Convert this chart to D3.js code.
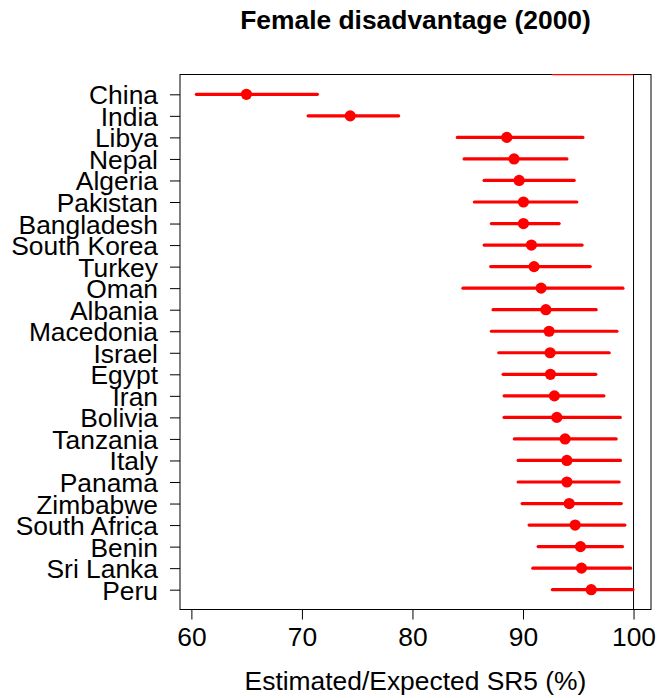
<!DOCTYPE html>
<html>
<head>
<meta charset="utf-8">
<script src="https://cdn.jsdelivr.net/npm/d3@7"></script>
<style>
  html, body { margin: 0; padding: 0; background: #fff; }
  svg { display: block; font-family: "Liberation Sans", Arial, Helvetica, sans-serif; }
</style>
</head>
<body>
<svg id="chart" width="658" height="698"></svg>
<script>
const countries = ["China","India","Libya","Nepal","Algeria","Pakistan","Bangladesh","South Korea","Turkey","Oman","Albania","Macedonia","Israel","Egypt","Iran","Bolivia","Tanzania","Italy","Panama","Zimbabwe","South Africa","Benin","Sri Lanka","Peru"];
const estimate = [64.98,74.37,88.53,89.19,89.65,90.04,90.04,90.76,91.0,91.64,92.07,92.36,92.45,92.48,92.84,93.06,93.81,93.97,93.97,94.18,94.72,95.2,95.29,96.17];
const lower    = [60.45,70.56,84.06,84.67,86.48,85.6,87.14,86.48,87.08,84.57,87.29,87.14,87.81,88.2,88.29,88.29,89.22,89.56,89.56,89.92,90.55,91.37,90.89,92.66];
const upper    = [71.4,78.75,95.42,93.97,94.63,94.87,93.27,95.35,96.08,99.04,96.62,98.5,97.8,96.59,97.32,98.8,98.43,98.82,98.7,98.89,99.22,99.0,99.73,99.95];
// an extra interval that sits just above the plot region (clipped, only its edge shows)
const ghostLower = [92.62];
const ghostUpper = [99.97];
const xTicks = [60,70,80,90,100];
const refValue = 100;
const titleText = "Female disadvantage (2000)";
const xLabel = "Estimated/Expected SR5 (%)";

const svg = d3.select("#chart");
const box = {left: 180, right: 651, top: 74.5, bottom: 609.5};
const FONT = '"Liberation Sans", Arial, sans-serif';
const FS = 26.4;

const x = d3.scaleLinear().domain([58.97, 101.58]).range([box.left, box.right]);
const y = d3.scaleLinear().domain([-0.92, countries.length - 1 + 0.92]).range([box.top, box.bottom]);

const rows = countries.map((c, i) => ({c, i, est: estimate[i], lo: lower[i], hi: upper[i]}));

const defs = svg.append("defs");
defs.append("clipPath").attr("id", "plotclip")
  .append("rect").attr("x", box.left).attr("y", box.top)
  .attr("width", box.right - box.left).attr("height", box.bottom - box.top);
defs.append("clipPath").attr("id", "ghostclip")
  .append("rect").attr("x", box.left).attr("y", box.top - 0.6)
  .attr("width", box.right - box.left).attr("height", box.bottom - box.top);

const plot = svg.append("g").attr("clip-path", "url(#plotclip)");

// reference line
plot.append("line")
  .attr("x1", x(refValue)).attr("x2", x(refValue))
  .attr("y1", box.top).attr("y2", box.bottom)
  .attr("stroke", "#000").attr("stroke-width", 1);

plot.selectAll("line.ci").data(rows).enter().append("line").attr("class", "ci")
  .attr("x1", d => x(d.lo)).attr("x2", d => x(d.hi))
  .attr("y1", d => y(d.i)).attr("y2", d => y(d.i))
  .attr("stroke", "#ff0000").attr("stroke-width", 3.2).attr("stroke-linecap", "round");

plot.selectAll("circle.pt").data(rows).enter().append("circle").attr("class", "pt")
  .attr("cx", d => x(d.est)).attr("cy", d => y(d.i)).attr("r", 5.6)
  .attr("fill", "#ff0000");

// box
svg.append("rect")
  .attr("x", box.left).attr("y", box.top)
  .attr("width", box.right - box.left).attr("height", box.bottom - box.top)
  .attr("fill", "none").attr("stroke", "#000").attr("stroke-width", 1);

// ghost interval (row above first), only its lower edge shows on the box top
svg.append("g").attr("clip-path", "url(#ghostclip)")
  .selectAll("line.ghost").data(ghostLower.map((l, k) => ({lo: l, hi: ghostUpper[k], i: -1})))
  .enter().append("line").attr("class", "ghost")
  .attr("x1", d => x(d.lo)).attr("x2", d => x(d.hi))
  .attr("y1", d => y(d.i)).attr("y2", d => y(d.i))
  .attr("stroke", "#ff0000").attr("stroke-width", 4.8);

// x axis
const xAxis = d3.axisBottom(x).tickValues(xTicks).tickSize(10).tickPadding(8).tickFormat(d3.format("d"));
const gx = svg.append("g").attr("transform", `translate(0,${box.bottom})`).call(xAxis);
gx.select(".domain").remove();
gx.selectAll("line").attr("stroke", "#000");
gx.selectAll("text").attr("font-size", FS).attr("fill", "#000").attr("font-family", FONT);

// y axis
const yAxis = d3.axisLeft(y).tickValues(rows.map(r => r.i)).tickFormat(i => countries[i]).tickSize(10).tickPadding(12);
const gy = svg.append("g").attr("transform", `translate(${box.left},0)`).call(yAxis);
gy.select(".domain").remove();
gy.selectAll("line").attr("stroke", "#000");
gy.selectAll("text").attr("font-size", FS).attr("fill", "#000").attr("font-family", FONT)
  .attr("dy", "0.36em");

// title
svg.append("text").attr("x", (box.left + box.right) / 2).attr("y", 29)
  .attr("text-anchor", "middle").attr("font-size", FS).attr("font-weight", "bold")
  .attr("font-family", FONT).text(titleText);

// x label
svg.append("text").attr("x", (box.left + box.right) / 2).attr("y", 690)
  .attr("text-anchor", "middle").attr("font-size", FS)
  .attr("font-family", FONT).text(xLabel);
</script>
</body>
</html>
